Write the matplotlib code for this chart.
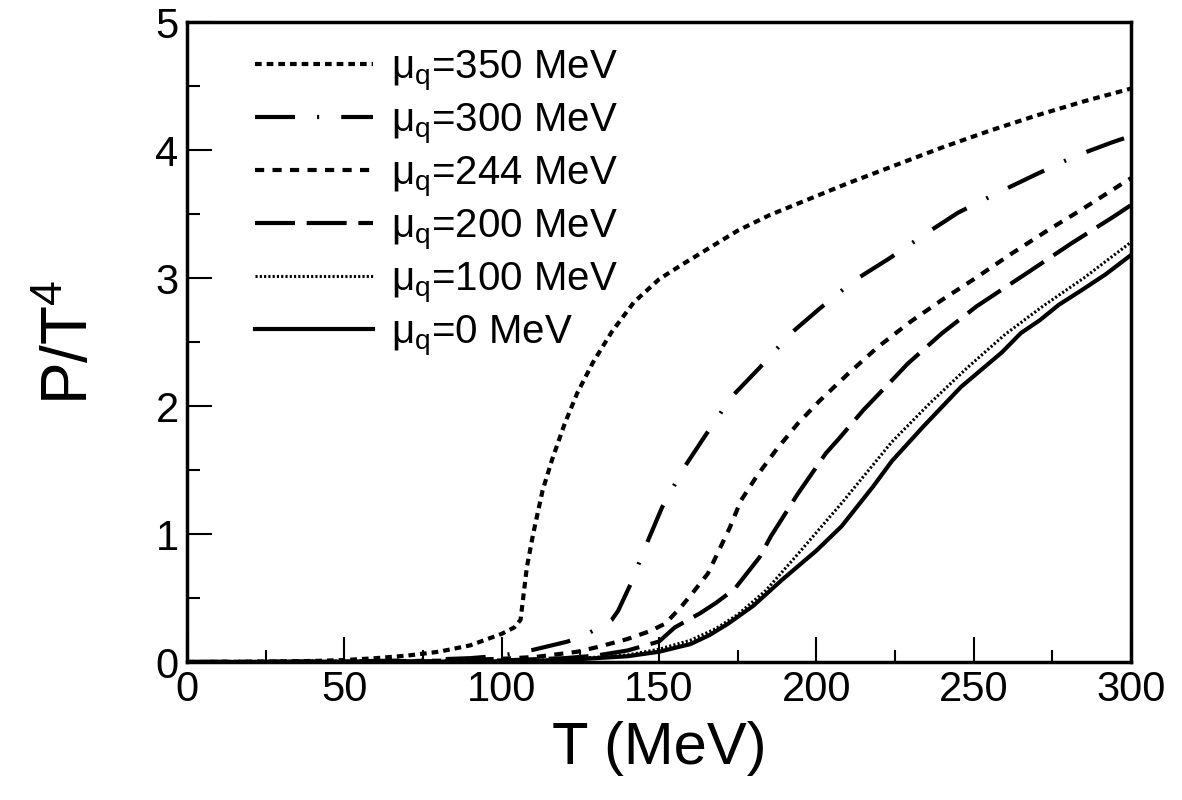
import matplotlib.pyplot as plt
from matplotlib.ticker import MultipleLocator

plt.rcParams['font.family'] = ['Liberation Sans', 'DejaVu Sans']
plt.rcParams['mathtext.fontset'] = 'custom'
plt.rcParams['mathtext.rm'] = 'Liberation Sans'

# P/T^4, one curve per quark chemical potential.
t_350 = [0, 20, 40, 50, 60, 70, 80, 90, 100, 104, 106, 108, 110, 113, 116, 120,
         124, 129, 135, 142, 150, 157, 165, 175, 185, 197, 210, 225, 240, 255,
         270, 285, 300]
p_350 = [0, 0.002, 0.008, 0.015, 0.03, 0.05, 0.08, 0.13, 0.22, 0.27, 0.33, 0.74,
         1.0, 1.34, 1.58, 1.86, 2.1, 2.34, 2.58, 2.81, 2.99, 3.1, 3.22, 3.37,
         3.49, 3.61, 3.74, 3.88, 4.02, 4.15, 4.27, 4.38, 4.48]

t_300 = [0, 30, 50, 70, 90, 100, 110, 121, 128, 133, 135, 137, 141, 146, 151,
         158, 165, 173, 182, 192, 201, 212, 223, 235, 245, 258, 269, 282, 294, 300]
p_300 = [0, 0.002, 0.005, 0.012, 0.03, 0.05, 0.095, 0.16, 0.23, 0.3, 0.33, 0.4,
         0.61, 0.92, 1.21, 1.52, 1.78, 2.07, 2.3, 2.57, 2.76, 2.98, 3.15, 3.35,
         3.51, 3.67, 3.8, 3.95, 4.06, 4.11]

t_244 = [0, 50, 80, 100, 111, 124, 131, 140, 147, 152, 157, 161, 165.5, 169,
         172.5, 176, 181, 187, 194, 201, 210, 219.5, 230, 240, 250, 262, 274,
         284, 298, 300]
p_244 = [0, 0.003, 0.01, 0.025, 0.04, 0.08, 0.12, 0.18, 0.24, 0.3, 0.43, 0.55,
         0.69, 0.87, 1.05, 1.26, 1.45, 1.65, 1.86, 2.04, 2.25, 2.46, 2.66, 2.83,
         2.99, 3.19, 3.38, 3.53, 3.75, 3.78]

t_200 = [0, 50, 80, 100, 120, 130, 140, 150, 155, 163, 168, 174, 182, 185.5,
         194, 203, 207, 215, 224, 229, 240, 251, 267, 281, 294.5, 300]
p_200 = [0, 0.002, 0.006, 0.012, 0.03, 0.05, 0.09, 0.16, 0.27, 0.38, 0.46, 0.57,
         0.82, 0.98, 1.31, 1.63, 1.74, 1.97, 2.2, 2.33, 2.57, 2.78, 3.04, 3.27,
         3.48, 3.57]

t_100 = [0, 50, 100, 120, 140, 150, 160, 168, 175, 184, 194, 201, 208, 215, 224,
         236, 248, 260, 272, 285, 300]
p_100 = [0, 0.001, 0.007, 0.02, 0.055, 0.1, 0.17, 0.26, 0.37, 0.56, 0.84, 1.04,
         1.24, 1.45, 1.72, 2.02, 2.3, 2.56, 2.78, 3.0, 3.28]

t_0 = [0, 50, 100, 120, 140, 150, 160, 166, 172, 180, 189, 200, 208, 218, 224,
       234, 246, 259, 265, 271, 277, 284, 292, 300]
p_0 = [0, 0.001, 0.005, 0.015, 0.045, 0.08, 0.14, 0.21, 0.3, 0.44, 0.64, 0.87,
       1.06, 1.37, 1.57, 1.84, 2.15, 2.42, 2.57, 2.67, 2.79, 2.9, 3.03, 3.18]

labels = ['350', '300', '244', '200', '100', '0']

fig = plt.figure(figsize=(11.82, 8.0), dpi=100)
ax = fig.add_axes([0.1582, 0.1725, 0.7987, 0.8])

ax.plot(t_350, p_350, c='black', lw=3, ls=(0, (1.6, 1.2)), dash_capstyle='butt')
ax.plot(t_300, p_300, c='black', lw=3, ls=(0, (9.6, 5.3, 0.5, 5.3)), dash_capstyle='butt')
ax.plot(t_244, p_244, c='black', lw=3, ls=(0, (2.2, 2.0)), dash_capstyle='butt')
ax.plot(t_200, p_200, c='black', lw=3, ls=(0, (9.6, 2.8)), dash_capstyle='butt')
ax.plot(t_100, p_100, c='black', lw=2.2, ls=(0, (0.7, 0.7)), dash_capstyle='butt')
ax.plot(t_0, p_0, c='black', lw=3)

for line, mu in zip(ax.get_lines(), labels):
    line.set_label('μ$_\\mathregular{q}$=' + mu + ' MeV')

ax.legend(loc='upper left', bbox_to_anchor=(0.055, 0.985), frameon=False,
          fontsize=29, handlelength=2.93, handletextpad=0.45, labelspacing=0.2,
          borderaxespad=0)

# Format plot.
ax.set_xlim(0, 300)
ax.set_ylim(0, 5)
ax.xaxis.set_major_locator(MultipleLocator(50))
ax.xaxis.set_minor_locator(MultipleLocator(25))
ax.yaxis.set_major_locator(MultipleLocator(1))
ax.yaxis.set_minor_locator(MultipleLocator(0.5))
ax.tick_params(axis='both', which='both', direction='in', top=False, right=False,
               width=1.5, labelsize=30, pad=6)
ax.tick_params(axis='both', which='major', length=18)
ax.tick_params(axis='both', which='minor', length=9)
for spine in ax.spines.values():
    spine.set_linewidth(2.5)

ax.set_xlabel('T (MeV)', fontsize=43, labelpad=8)
ax.set_ylabel('P/T$^\\mathregular{4}$', fontsize=46, labelpad=40)

fig.savefig('out.png', dpi=100)
